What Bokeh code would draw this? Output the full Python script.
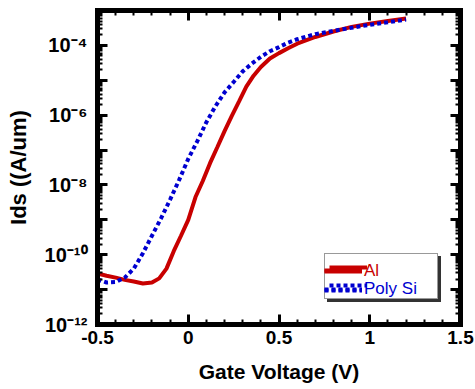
from bokeh.plotting import figure
from bokeh.models import (Range1d, LinearAxis, LogAxis, FixedTicker, CustomJSTickFormatter,
                          Legend, LegendItem)
from bokeh.embed import file_html
from bokeh.resources import INLINE

# ---------------- data ----------------
vgs_al = [-0.50, -0.45, -0.40, -0.35, -0.30, -0.25, -0.20, -0.16, -0.12, -0.08, -0.04,
          0.00, 0.04, 0.08, 0.12, 0.16, 0.20, 0.24, 0.28, 0.32, 0.36, 0.40, 0.45,
          0.50, 0.55, 0.60, 0.70, 0.80, 0.90, 1.00, 1.10, 1.20]
ids_al = [2.9e-11, 2.5e-11, 2.2e-11, 1.9e-11, 1.7e-11, 1.5e-11, 1.6e-11, 2.1e-11, 4.0e-11,
          1.26e-10, 3.5e-10, 1.0e-9, 4.5e-9, 1.3e-8, 4.2e-8, 1.2e-7, 3.5e-7, 9.5e-7,
          2.5e-6, 6.6e-6, 1.35e-5, 2.4e-5, 4.2e-5, 6.0e-5, 8.3e-5, 1.12e-4, 1.74e-4,
          2.5e-4, 3.4e-4, 4.2e-4, 5.0e-4, 5.9e-4]

vgs_poly = [-0.50, -0.45, -0.40, -0.35, -0.30, -0.25, -0.20, -0.15, -0.10, -0.05,
            0.00, 0.05, 0.10, 0.15, 0.20, 0.25, 0.30, 0.35, 0.40, 0.45, 0.50, 0.55,
            0.60, 0.70, 0.80, 0.90, 1.00, 1.10, 1.20]
ids_poly = [1.95e-11, 1.6e-11, 1.65e-11, 2.2e-11, 4.0e-11, 1.1e-10, 3.5e-10, 1.1e-9,
            3.8e-9, 1.4e-8, 5.6e-8, 1.8e-7, 6.3e-7, 1.8e-6, 4.5e-6, 8.9e-6, 1.8e-5,
            3.0e-5, 4.7e-5, 6.8e-5, 8.9e-5, 1.2e-4, 1.5e-4, 2.1e-4, 2.6e-4, 3.2e-4,
            3.9e-4, 4.6e-4, 5.5e-4]

x_ticks = [-0.5, 0, 0.5, 1, 1.5]
x_tick_labels = ["-0.5", "0", "0.5", "1", "1.5"]
x_minor_ticks = [-0.4, -0.3, -0.2, -0.1, 0.1, 0.2, 0.3, 0.4, 0.6, 0.7, 0.8, 0.9,
                 1.1, 1.2, 1.3, 1.4]
y_decades = list(range(-12, -2))          # major ticks every decade
y_label_exponents = [-12, -10, -8, -6, -4]  # labelled decades
y_tick_labels = ["10⁻¹²", "10⁻¹⁰", "10⁻⁸", "10⁻⁶", "10⁻⁴"]
series_names = ["Al", "Poly Si"]
x_title = "Gate Voltage (V)"
y_title = "Ids ((A/um)"

# ---------------- figure ----------------
X0, X1 = -0.5, 1.5
Y0, Y1 = 1e-12, 1e-3
FONT = "Liberation Sans"
RED = "#c80000"
BLUE = "#0000d0"

p = figure(width=475, height=389, y_axis_type="log",
           x_range=Range1d(X0, X1), y_range=Range1d(Y0, Y1),
           output_backend="svg", toolbar_location=None,
           min_border_left=97, min_border_right=15, min_border_top=10, min_border_bottom=65)
p.grid.visible = False
p.outline_line_color = None
p.background_fill_color = "white"
p.border_fill_color = "white"

x_ticker = FixedTicker(ticks=x_ticks, minor_ticks=x_minor_ticks)
y_major = [10.0 ** d for d in y_decades]
y_minor = [k * 10.0 ** d for d in range(-12, -3) for k in range(2, 10)]
y_ticker = FixedTicker(ticks=y_major, minor_ticks=y_minor)
blank = CustomJSTickFormatter(code="return ''")
x_fmt = CustomJSTickFormatter(args=dict(tvals=x_ticks, tlabels=x_tick_labels), code="""
    for (let i = 0; i < tvals.length; i++) {
        if (Math.abs(tvals[i] - tick) < 1e-9) return tlabels[i];
    }
    return '';
""")
y_fmt = CustomJSTickFormatter(args=dict(exps=y_label_exponents, tlabels=y_tick_labels),
                              code="""
    const e = Math.round(Math.log10(tick));
    const i = exps.indexOf(e);
    return i >= 0 ? tlabels[i] : '';
""")


def style_axis(ax):
    ax.axis_line_width = 5
    ax.axis_line_color = "black"
    ax.axis_line_cap = "square"
    ax.major_tick_in = 10
    ax.major_tick_out = 0
    ax.minor_tick_in = 5
    ax.minor_tick_out = 0
    ax.major_tick_line_width = 3
    ax.minor_tick_line_width = 2
    ax.major_tick_line_color = "black"
    ax.minor_tick_line_color = "black"
    ax.major_label_text_color = "black"
    ax.axis_label_text_color = "black"


xb = p.xaxis[0]
xb.ticker = x_ticker
xb.formatter = x_fmt
style_axis(xb)
xb.major_label_text_font = FONT
xb.major_label_text_font_style = "bold"
xb.major_label_text_font_size = "19px"
xb.major_label_standoff = 6
xb.axis_label = x_title
xb.axis_label_text_font = FONT
xb.axis_label_text_font_style = "bold"
xb.axis_label_text_font_size = "21px"
xb.axis_label_standoff = 13

yl = p.yaxis[0]
yl.ticker = y_ticker
yl.formatter = y_fmt
style_axis(yl)
yl.major_label_text_font = FONT
yl.major_label_text_font_style = "bold"
yl.major_label_text_font_size = "20px"
yl.major_label_standoff = 10
yl.axis_label = y_title
yl.axis_label_text_font = FONT
yl.axis_label_text_font_style = "bold"
yl.axis_label_text_font_size = "22px"
yl.axis_label_standoff = 11

xt = LinearAxis(ticker=x_ticker, formatter=blank, major_label_standoff=0)
style_axis(xt)
p.add_layout(xt, "above")
yr = LogAxis(ticker=y_ticker, formatter=blank, major_label_standoff=0)
style_axis(yr)
p.add_layout(yr, "right")

# ---------------- series ----------------
r_al = p.line(vgs_al, ids_al, line_color=RED, line_width=4)
r_poly = p.line(vgs_poly, ids_poly, line_color=BLUE, line_width=4, line_dash="4 3")

# ---------------- legend (shadow + box + coloured labels) ----------------
# All four legends share the same two-row layout, so their rows line up exactly.
LX, LY = 227, 25
common = dict(glyph_width=38, glyph_height=18, label_height=18, label_width=64,
              label_standoff=2, padding=4, spacing=0, margin=0, label_text_font=FONT,
              label_text_font_size="17px", label_text_line_height=1.0)
rends = [r_al, r_poly]


def items(names):
    return [LegendItem(label=n, renderers=[r]) for n, r in zip(names, rends)]


shadow = Legend(items=items([" ", " "]), location=(LX + 3, LY - 3),
                background_fill_color="#333333", background_fill_alpha=1,
                border_line_color="#333333", **common)
box = Legend(items=items([" ", " "]), location=(LX, LY),
             background_fill_color="white", background_fill_alpha=1,
             border_line_color="#333333", border_line_width=1, **common)
leg_al = Legend(items=items([series_names[0], " "]), location=(LX, LY),
                background_fill_alpha=0, border_line_color=None,
                label_text_color=RED, **common)
leg_poly = Legend(items=items([" ", series_names[1]]), location=(LX, LY),
                  background_fill_alpha=0, border_line_color=None,
                  label_text_color=BLUE, **common)
for lg in (shadow, box, leg_al, leg_poly):
    p.add_layout(lg, "center")

open("out.html", "w").write(file_html(p, INLINE))
